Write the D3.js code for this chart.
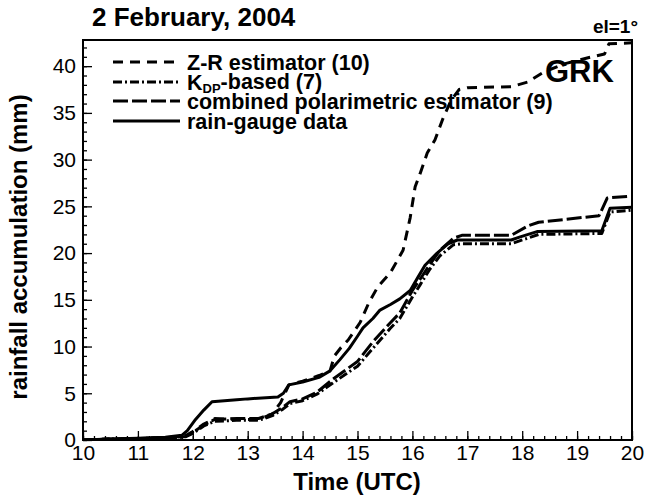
<!DOCTYPE html>
<html><head><meta charset="utf-8">
<script src="https://cdn.jsdelivr.net/npm/d3@7"></script>
<style>body{margin:0;background:#fff}svg{display:block}text{font-family:"Liberation Sans",Arial,sans-serif;fill:#000}</style>
</head><body><svg id="c" width="645" height="497"></svg>
<script>
// ---- data ----
const xTicks = [10, 11, 12, 13, 14, 15, 16, 17, 18, 19, 20];
const yTicks = [0, 5, 10, 15, 20, 25, 30, 35, 40];

const gaugeT = [10.0, 10.5, 11.0, 11.5, 11.8, 11.9, 12.05, 12.2, 12.35, 12.8, 13.0, 13.55, 13.65, 13.75, 14.0, 14.3, 14.5, 14.68, 14.85, 15.0, 15.1, 15.28, 15.41, 15.6, 15.77, 15.96, 16.1, 16.23, 16.45, 16.65, 16.82, 17.8, 17.95, 18.27, 19.45, 19.6, 20.0];
const gaugeV = [0, 0.1, 0.2, 0.3, 0.5, 1.0, 2.2, 3.2, 4.1, 4.3, 4.4, 4.6, 5.0, 5.9, 6.2, 6.7, 7.4, 8.6, 9.8, 11.1, 12.0, 13.0, 13.9, 14.5, 15.1, 16.0, 17.4, 18.7, 20.0, 21.0, 21.4, 21.4, 21.7, 22.3, 22.4, 24.8, 24.9];

const zrT = [10.0, 10.5, 11.0, 11.5, 11.85, 12.0, 12.2, 12.4, 12.8, 13.2, 13.45, 13.6, 13.75, 14.0, 14.3, 14.5, 14.58, 14.7, 14.83, 15.05, 15.2, 15.37, 15.6, 15.83, 15.96, 16.05, 16.14, 16.27, 16.41, 16.55, 16.7, 16.85, 17.0, 17.8, 18.1, 18.4, 18.8, 19.2, 19.5, 19.58, 20.0];
const zrV = [0, 0.1, 0.15, 0.25, 0.4, 0.9, 1.7, 2.3, 2.2, 2.2, 2.8, 4.0, 5.9, 6.3, 6.9, 7.4, 9.0, 9.9, 10.7, 12.6, 14.6, 16.4, 17.9, 20.3, 23.8, 27.1, 28.5, 30.7, 32.1, 34.3, 36.3, 37.5, 37.7, 37.8, 38.3, 39.4, 40.3, 40.9, 41.3, 42.4, 42.5];

const kdpT = [10.0, 10.5, 11.0, 11.5, 11.85, 12.0, 12.2, 12.4, 12.8, 13.2, 13.45, 13.64, 13.77, 14.0, 14.26, 14.55, 15.0, 15.28, 15.59, 15.77, 16.0, 16.14, 16.32, 16.5, 16.75, 16.9, 17.8, 18.1, 18.3, 19.45, 19.6, 20.0];
const kdpV = [0, 0.1, 0.15, 0.25, 0.3, 0.7, 1.5, 2.0, 2.1, 2.1, 2.6, 3.3, 3.9, 4.2, 4.9, 6.1, 7.9, 9.8, 11.9, 13.0, 15.3, 16.6, 18.3, 19.7, 20.9, 21.0, 21.0, 21.6, 22.0, 22.1, 24.4, 24.6];

const combT = [10.0, 10.5, 11.0, 11.5, 11.85, 12.0, 12.2, 12.4, 12.8, 13.2, 13.45, 13.64, 13.77, 14.0, 14.26, 14.55, 15.0, 15.28, 15.59, 15.77, 16.0, 16.14, 16.32, 16.5, 16.75, 16.9, 17.8, 18.1, 18.3, 19.4, 19.55, 20.0];
const combV = [0, 0.1, 0.15, 0.25, 0.35, 0.8, 1.6, 2.2, 2.3, 2.3, 2.8, 3.5, 4.1, 4.4, 5.1, 6.5, 8.4, 10.5, 12.5, 13.6, 16.0, 17.2, 18.8, 20.3, 21.6, 21.9, 21.9, 22.9, 23.3, 24.0, 25.9, 26.1];

const seriesNames = ["Z-R estimator (10)", "-based (7)", "combined polarimetric estimator (9)", "rain-gauge data"];

// ---- layout ----
const svg = d3.select("#c");
const m = {l: 83, r: 13, t: 40, b: 57};
const W = 645, H = 497;
const x = d3.scaleLinear().domain([10, 20]).range([m.l, W - m.r]);
const y = d3.scaleLinear().domain([0, 42.8]).range([H - m.b, m.t]);

svg.append("defs").append("clipPath").attr("id", "clip")
  .append("rect").attr("x", m.l).attr("y", m.t).attr("width", W - m.l - m.r).attr("height", H - m.t - m.b);

// axes (ticks inward)
const xMinor = d3.range(10, 20.001, 0.2);
const yMinor = d3.range(0, 42.8, 1);
const gx = svg.append("g").attr("transform", `translate(0,${H - m.b})`);
gx.call(d3.axisBottom(x).tickValues(xMinor).tickSize(-4).tickFormat(""));
gx.call(g => g.select(".domain").remove());
const gx2 = svg.append("g").attr("transform", `translate(0,${H - m.b})`)
  .call(d3.axisBottom(x).tickValues(xTicks).tickSize(-9).tickFormat(d3.format("d")));
gx2.select(".domain").remove();
gx2.selectAll("text").attr("font-size", 21).attr("dy", "0.71em").attr("y", 5);

const gy = svg.append("g").attr("transform", `translate(${m.l},0)`);
gy.call(d3.axisLeft(y).tickValues(yMinor).tickSize(-4).tickFormat(""));
gy.select(".domain").remove();
const gy2 = svg.append("g").attr("transform", `translate(${m.l},0)`)
  .call(d3.axisLeft(y).tickValues(yTicks).tickSize(-9).tickFormat(d3.format("d")));
gy2.select(".domain").remove();
gy2.selectAll("text").attr("font-size", 21).attr("x", -7);
svg.selectAll(".tick line").attr("stroke", "#000").attr("stroke-width", 1.3);

svg.append("rect").attr("x", m.l).attr("y", m.t).attr("width", W - m.l - m.r).attr("height", H - m.t - m.b)
  .attr("fill", "none").attr("stroke", "#000").attr("stroke-width", 2);

// series
const styles = [
  {t: zrT, v: zrV, dash: "10,7"},
  {t: kdpT, v: kdpV, dash: "9,3,2,3"},
  {t: combT, v: combV, dash: "15,4"},
  {t: gaugeT, v: gaugeV, dash: null}
];
const line = d3.line().x(d => x(d[0])).y(d => y(d[1]));
const plot = svg.append("g").attr("clip-path", "url(#clip)");
styles.forEach(s => {
  plot.append("path").datum(s.t.map((t, i) => [t, s.v[i]]))
    .attr("d", line).attr("fill", "none").attr("stroke", "#000")
    .attr("stroke-width", 3).attr("stroke-dasharray", s.dash)
    .attr("stroke-linejoin", "round");
});

// legend
const legY = [62, 82, 101, 121];
styles.forEach((s, i) => {
  svg.append("line").attr("x1", 113).attr("x2", 180).attr("y1", legY[i]).attr("y2", legY[i])
    .attr("stroke", "#000").attr("stroke-width", 3).attr("stroke-dasharray", s.dash);
  const t = svg.append("text").attr("x", 187).attr("y", legY[i]).attr("dy", "0.35em")
    .attr("font-size", 21.5).attr("font-weight", "bold");
  if (i === 1) {
    t.append("tspan").text("K");
    t.append("tspan").attr("font-size", 13).attr("dy", "0.3em").text("DP");
    t.append("tspan").attr("dy", "-0.2em").text(seriesNames[i]);
  } else t.text(seriesNames[i]);
});

// texts
svg.append("text").attr("x", 92).attr("y", 26).attr("font-size", 26).attr("font-weight", "bold").text("2 February, 2004");
svg.append("text").attr("x", 638).attr("y", 33).attr("text-anchor", "end").attr("font-size", 19).attr("font-weight", "bold").text("el=1°");
svg.append("text").attr("x", 545).attr("y", 82).attr("font-size", 31).attr("font-weight", "bold").text("GRK");
svg.append("text").attr("x", 357).attr("y", 490).attr("text-anchor", "middle").attr("font-size", 24).attr("font-weight", "bold").text("Time (UTC)");
svg.append("text").attr("transform", `translate(27,247) rotate(-90)`).attr("text-anchor", "middle").attr("font-size", 24).attr("font-weight", "bold").text("rainfall accumulation (mm)");
</script></body></html>
